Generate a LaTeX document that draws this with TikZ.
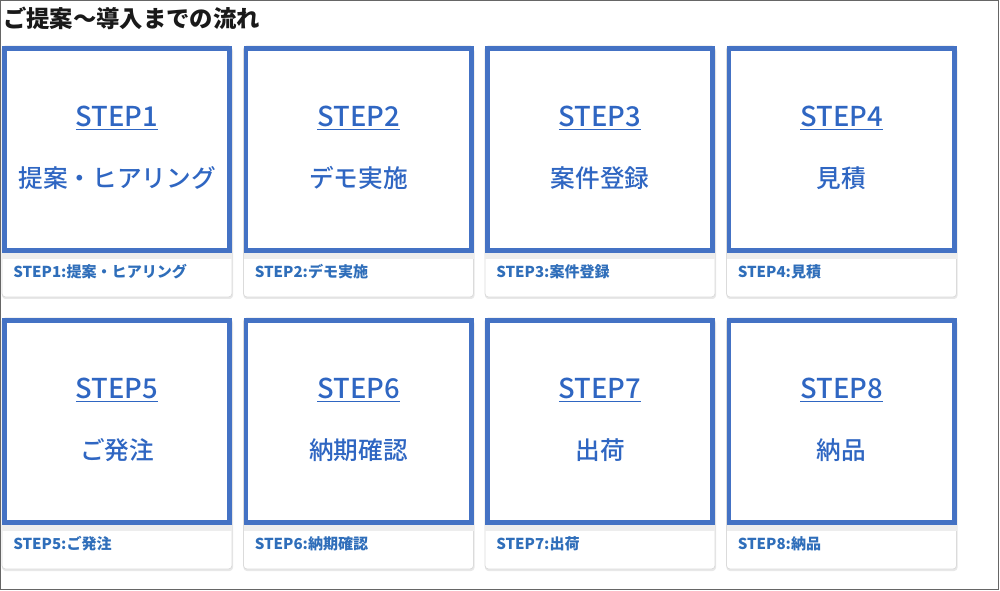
\documentclass[tikz,border=0pt]{standalone}
\usepackage{fontspec}
\setmainfont{Noto Sans CJK JP}
\newfontfamily\jpmedium{Noto Sans CJK JP Medium}
\definecolor{stepblue}{HTML}{4472C4}
\definecolor{steptext}{HTML}{2F66C2}
\definecolor{labeltext}{HTML}{2F6EBA}
\begin{document}
\begin{tikzpicture}[x=0.75pt,y=-0.75pt]
    \tikzset{
        frame/.style={draw=black!60, line width=0.9pt},
        title/.style={anchor=west, font=\bfseries\fontsize{17.5}{20}\selectfont, text=black!90},
        shade/.style={fill=black!9, rounded corners=2.5pt},
        card/.style={draw=black!14, fill=white, rounded corners=2.5pt, line width=0.6pt},
        band/.style={fill=black!7},
        stepbox/.style={draw=stepblue, line width=3.6pt},
        steptitle/.style={text=steptext, font=\jpmedium\fontsize{20.5}{24}\selectfont},
        stepname/.style={text=steptext, font=\jpmedium\fontsize{18.5}{22}\selectfont},
        steplabel/.style={anchor=west, text=labeltext, font=\bfseries\fontsize{11.3}{13}\selectfont}
    }
    \useasboundingbox (0,0) rectangle (1000,591);
    \draw[frame] (0.5,0.5) rectangle (998.5,589.5);
    \node[title, inner sep=0pt] (title) at (3,18) {ご提案〜導入までの流れ};
    \foreach \i/\c/\r/\txt in {1/0/0/提案・ヒアリング, 2/1/0/デモ実施, 3/2/0/案件登録, 4/3/0/見積,
                               5/0/1/ご発注, 6/1/1/納期確認, 7/2/1/出荷, 8/3/1/納品} {
        \begin{scope}[shift={({2+241.5*\c},{46+272*\r})}]
            \fill[shade] (0,2) rectangle (231,253);
            \draw[card] (0,0) rectangle (230,251);
            \fill[band] (0,207) rectangle (230,213);
            \draw[stepbox] (2.4,2.4) rectangle (227.6,204.6);
            \coordinate (card\i) at (115,103);
            \node[steptitle] (step\i) at (115,72) {\underline{STEP\i}};
            \node[stepname] (name\i) at (115,132) {\txt};
            \node[steplabel, inner sep=0pt] (label\i) at (11,226) {STEP\i:\txt};
        \end{scope}
    }
\end{tikzpicture}
\end{document}
